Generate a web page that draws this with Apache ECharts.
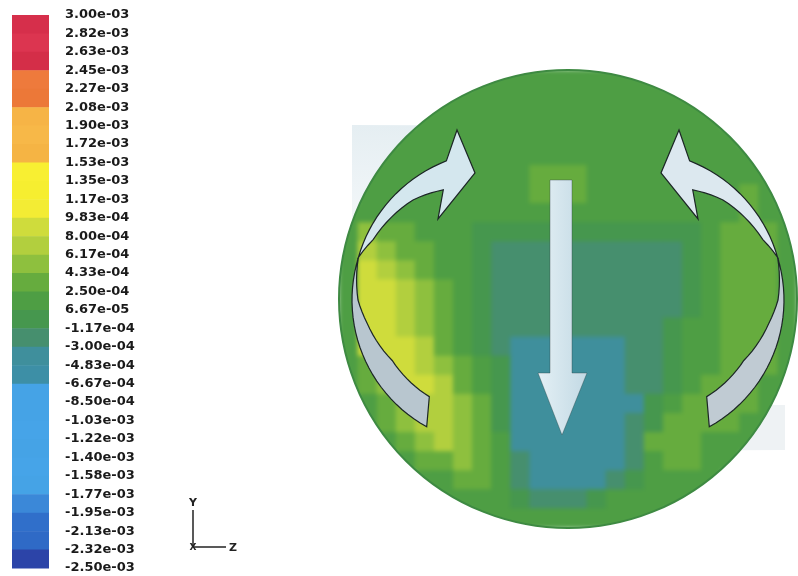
<!DOCTYPE html>
<html>
<head>
<meta charset="utf-8">
<script src="https://cdn.jsdelivr.net/npm/echarts@6/dist/echarts.min.js"></script>
<style>
  html, body { margin: 0; padding: 0; background: #fff; }
  .layer { position: absolute; left: 0; top: 0; width: 798px; height: 576px; }
  #field { filter: blur(2px); }
</style>
</head>
<body>
<div id="field" class="layer"></div>
<div id="chart" class="layer"></div>
<script>
// colour bar: boundary labels (top to bottom) and the 30 band colours between them
const tickLabels = ['3.00e-03', '2.82e-03', '2.63e-03', '2.45e-03', '2.27e-03', '2.08e-03',
  '1.90e-03', '1.72e-03', '1.53e-03', '1.35e-03', '1.17e-03', '9.83e-04', '8.00e-04',
  '6.17e-04', '4.33e-04', '2.50e-04', '6.67e-05', '-1.17e-04', '-3.00e-04', '-4.83e-04',
  '-6.67e-04', '-8.50e-04', '-1.03e-03', '-1.22e-03', '-1.40e-03', '-1.58e-03',
  '-1.77e-03', '-1.95e-03', '-2.13e-03', '-2.32e-03', '-2.50e-03'];
const bandColors = ['#d62f4b', '#dc3550', '#d42e48', '#ee7a3c', '#ec7838', '#f6b446',
  '#f7b848', '#f5b444', '#f8ef32', '#f6ee30', '#f3ec34', '#cfdc3c', '#b2cf3e', '#8ec03e',
  '#66ac3e', '#4e9e44', '#46974e', '#468f6e', '#3f8f9c', '#3d8fa6', '#45a3e6', '#45a3e6',
  '#46a4e8', '#45a3e6', '#46a4e8', '#45a3e6', '#3b88d8', '#306fca', '#2f6ac6', '#2c44a8'];

// field values on the section (units of 1e-4), 24 x 24 cells, row 0 at the top; N = outside the disc
const N = null;
const field = [
  [N,N,N,N,N,N,N,1.5,1.5,1.5,1.5,1.5,1.5,1.5,1.5,1.5,1.5,N,N,N,N,N,N,N],
  [N,N,N,N,N,1.5,1.5,1.5,1.5,1.5,1.5,1.5,1.5,1.5,1.5,1.5,1.5,1.5,1.5,N,N,N,N,N],
  [N,N,N,N,1.5,1.5,1.5,1.5,1.5,1.5,1.5,1.5,1.5,1.5,1.5,1.5,1.5,1.5,1.5,1.5,N,N,N,N],
  [N,N,N,1.5,1.5,1.5,1.5,1.5,1.5,1.5,1.5,1.5,1.5,1.5,1.5,1.5,1.5,1.5,1.5,1.5,1.5,N,N,N],
  [N,N,1.5,1.5,1.5,1.5,1.5,1.5,1.5,1.5,1.5,1.5,1.5,1.5,1.5,1.5,1.5,1.5,1.5,1.5,1.5,1.5,N,N],
  [N,1.5,1.5,1.5,1.5,1.5,1.5,1.5,1.5,1.5,3,3,3,1.5,1.5,1.5,1.5,1.5,1.5,1.5,1.5,1.5,1.5,N],
  [N,1.5,1.5,1.5,1.5,1.5,1.5,1.5,1.5,1.5,3,3,3,1.5,1.5,1.5,1.5,1.5,1.5,1.5,1.5,3,1.5,N],
  [1.5,1.5,1.5,1.5,1.5,1.5,1.5,1.5,1.5,1.5,1.5,1.5,1.5,1.5,1.5,1.5,1.5,1.5,1.5,1.5,1.5,3,1.5,1.5],
  [1.5,5,3,3,1.5,1.5,1.5,-0.2,-0.2,-0.2,-0.2,-0.2,-0.2,-0.2,-0.2,-0.2,-0.2,-0.2,-0.2,1.5,3,3,3,1.5],
  [1.5,7,5,3,3,1.5,1.5,-0.2,-2,-2,-2,-2,-2,-2,-2,-2,-2,-2,-0.2,1.5,3,3,3,1.5],
  [1.5,9,7,5,3,1.5,1.5,-0.2,-2,-2,-2,-2,-2,-2,-2,-2,-2,-2,-0.2,1.5,3,3,3,1.5],
  [1.5,9,9,7,5,3,1.5,-0.2,-2,-2,-2,-2,-2,-2,-2,-2,-2,-2,-0.2,1.5,3,3,3,1.5],
  [1.5,9,9,7,5,3,1.5,-0.2,-2,-2,-2,-2,-2,-2,-2,-2,-2,-2,-0.2,1.5,3,3,3,1.5],
  [1.5,9,9,7,5,3,1.5,-0.2,-2,-2,-2,-2,-2,-2,-2,-2,-2,-0.2,1.5,1.5,3,3,3,1.5],
  [1.5,9,9,9,7,3,1.5,-0.2,-2,-4,-4,-4,-4,-4,-4,-2,-2,-0.2,1.5,1.5,3,3,3,1.5],
  [1.5,3,9,9,7,5,3,1.5,-0.2,-4,-4,-4,-4,-4,-4,-2,-2,-0.2,1.5,1.5,3,3,3,1.5],
  [1.5,3,5,9,9,7,3,1.5,-0.2,-4,-4,-4,-4,-4,-4,-2,-2,-0.2,1.5,3,3,3,1.5,1.5],
  [N,1.5,3,5,7,7,5,3,-0.2,-4,-4,-4,-4,-4,-4,-4,-0.2,1.5,3,3,3,3,1.5,N],
  [N,1.5,3,5,7,7,5,3,-0.2,-4,-4,-4,-4,-4,-4,-2,-0.2,3,3,3,3,1.5,1.5,N],
  [N,N,1.5,3,5,7,5,3,1.5,-4,-4,-4,-4,-4,-4,-2,3,3,3,1.5,1.5,1.5,N,N],
  [N,N,N,1.5,3,3,5,3,1.5,-2,-4,-4,-4,-4,-4,-2,1.5,3,3,1.5,1.5,N,N,N],
  [N,N,N,N,1.5,1.5,3,3,1.5,-2,-4,-4,-4,-4,-2,-0.2,1.5,1.5,1.5,1.5,N,N,N,N],
  [N,N,N,N,N,1.5,1.5,1.5,1.5,-0.2,-2,-2,-2,-0.2,1.5,1.5,1.5,1.5,1.5,N,N,N,N,N],
  [N,N,N,N,N,N,N,1.5,1.5,1.5,1.5,1.5,1.5,1.5,1.5,1.5,1.5,N,N,N,N,N,N,N]
];

const tickVals = tickLabels.map(s => parseFloat(s) * 1e4);
const pieces = bandColors.map((c, i) => ({ gt: tickVals[i + 1], lte: tickVals[i], color: c }));
const barData = bandColors.map((c, i) => [29 - i, 30 - i]);

const cellData = [];
field.forEach((row, r) => row.forEach((v, c) => {
  if (v !== null) cellData.push([c, r, v]);
}));

// contour field, on its own softened layer underneath
const fieldChart = echarts.init(document.getElementById('field'));
fieldChart.setOption({
  animation: false,
  grid: { left: 339, top: 70, width: 458, height: 458 },
  xAxis: { type: 'category', data: field[0].map((v, i) => i), show: false },
  yAxis: { type: 'category', data: field.map((r, i) => i), inverse: true, show: false },
  visualMap: { type: 'piecewise', show: false, dimension: 2, pieces: pieces },
  series: [{
    type: 'custom', data: cellData,
    renderItem: (params, api) => {
      const p = api.coord([api.value(0), api.value(1)]);
      const s = api.size([1, 1]);
      return {
        type: 'rect',
        shape: { x: p[0] - s[0] / 2 - 0.5, y: p[1] - s[1] / 2 - 0.5, width: s[0] + 1, height: s[1] + 1 },
        style: { fill: api.visual('color') }
      };
    }
  }]
});

// decoration helpers (arrows and mask drawn over the section)
function arcPts(cx, cy, pairs) {
  const pts = [];
  for (let k = 0; k < pairs.length - 1; k++) {
    const [a0, r0] = pairs[k], [a1, r1] = pairs[k + 1];
    const n = Math.max(2, Math.ceil(Math.abs(a1 - a0) / 3));
    for (let j = (k === 0 ? 0 : 1); j <= n; j++) {
      const t = j / n;
      const a = (a0 + (a1 - a0) * t) * Math.PI / 180;
      const r = r0 + (r1 - r0) * t;
      pts.push([cx + r * Math.cos(a), cy + r * Math.sin(a)]);
    }
  }
  return pts;
}
const lowerArrow = arcPts(497, 300, [[119, 145], [197, 145]])
  .concat(arcPts(497, 300, [[197, 145], [180, 139], [170, 132], [150, 121], [125, 118]]).slice(1));
const upperArrow = arcPts(497, 300, [[197, 145], [250, 148]])
  .concat([[457, 130], [475, 173], [438, 219]])
  .concat(arcPts(497, 300, [[244, 122.5], [230, 130.6], [206, 137.8], [197, 145]]));
const mirror = pts => pts.map(p => [1136 - p[0], p[1]]);

const faintLeft = [[352, 125]].concat(arcPts(568, 299, [[229.4, 229], [199.4, 229]]));
const faintRight = [[785, 405], [785, 450]].concat(arcPts(568, 299, [[41.3, 229], [27.6, 229]]));

const arrowStroke = '#1c2626';

const chart = echarts.init(document.getElementById('chart'));
chart.setOption({
  animation: false,
  grid: { left: 12, top: 15, width: 37, height: 553 },
  xAxis: { type: 'value', min: 0, max: 1, show: false },
  yAxis: {
    type: 'value', min: 0, max: 30, interval: 1, position: 'right',
    axisLine: { show: false }, axisTick: { show: false }, splitLine: { show: false },
    axisLabel: {
      margin: 16, color: '#1a1a1a', fontSize: 13, fontWeight: 'bold',
      fontFamily: 'DejaVu Sans',
      formatter: v => tickLabels[30 - v]
    }
  },
  series: [{
    type: 'custom', data: barData,
    renderItem: (params, api) => {
      const p0 = api.coord([0, api.value(1)]);
      const p1 = api.coord([1, api.value(0)]);
      return {
        type: 'rect',
        shape: { x: p0[0], y: p0[1], width: p1[0] - p0[0], height: p1[1] - p0[1] + 0.5 },
        style: { fill: bandColors[params.dataIndex] }
      };
    }
  }],
  graphic: [
    { type: 'ring', shape: { cx: 568, cy: 299, r: 340, r0: 229 }, style: { fill: '#fff' }, z: 10 },
    {
      type: 'polygon', shape: { points: faintLeft },
      style: {
        fill: new echarts.graphic.LinearGradient(0, 0, 0, 1, [
          { offset: 0, color: '#e5eef2' }, { offset: 1, color: '#f3f7f9' }
        ])
      },
      z: 11
    },
    { type: 'polygon', shape: { points: faintRight }, style: { fill: '#eef2f4' }, z: 11 },
    { type: 'circle', shape: { cx: 568, cy: 299, r: 229 }, style: { fill: 'none', stroke: '#3e8a42', lineWidth: 2 }, z: 12 },
    { type: 'polygon', shape: { points: lowerArrow }, style: { fill: '#b8c6cf', stroke: arrowStroke, lineWidth: 1.2 }, z: 13 },
    { type: 'polygon', shape: { points: upperArrow }, style: { fill: '#d4e7ee', stroke: arrowStroke, lineWidth: 1.2 }, z: 13 },
    { type: 'polygon', shape: { points: mirror(lowerArrow) }, style: { fill: '#c0cbd3', stroke: arrowStroke, lineWidth: 1.2 }, z: 13 },
    { type: 'polygon', shape: { points: mirror(upperArrow) }, style: { fill: '#dce8ef', stroke: arrowStroke, lineWidth: 1.2 }, z: 13 },
    {
      type: 'polygon',
      shape: { points: [[550, 180], [572, 180], [572, 373], [587, 373], [562, 435], [538, 373], [550, 373]] },
      style: {
        fill: new echarts.graphic.LinearGradient(0, 0, 1, 0, [
          { offset: 0, color: '#e4f0f5' }, { offset: 1, color: '#c2d9e4' }
        ]),
        stroke: 'rgba(40,60,60,0.45)', lineWidth: 0.8
      },
      z: 13
    },
    // axis triad
    { type: 'line', shape: { x1: 193, y1: 510, x2: 193, y2: 547 }, style: { stroke: '#222', lineWidth: 1.5 }, z: 13 },
    { type: 'line', shape: { x1: 193, y1: 547, x2: 226, y2: 547 }, style: { stroke: '#222', lineWidth: 1.5 }, z: 13 },
    { type: 'text', x: 193, y: 503, style: { text: 'Y', font: 'bold 11px DejaVu Sans', fill: '#222', align: 'center', verticalAlign: 'middle' }, z: 13 },
    { type: 'text', x: 233, y: 548, style: { text: 'Z', font: 'bold 11px DejaVu Sans', fill: '#222', align: 'center', verticalAlign: 'middle' }, z: 13 },
    { type: 'text', x: 193, y: 548, style: { text: 'X', font: 'bold 9px DejaVu Sans', fill: '#222', align: 'center', verticalAlign: 'middle' }, z: 14 }
  ]
});
</script>
</body>
</html>
